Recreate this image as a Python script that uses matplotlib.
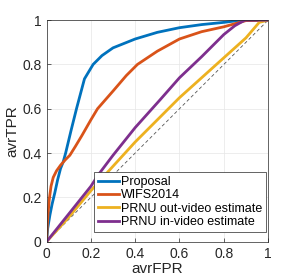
import numpy as np
import matplotlib
matplotlib.use("Agg")
from matplotlib import pyplot as plt

plt.rcParams['font.family'] = ['Liberation Sans', 'DejaVu Sans']

# ROC curves
prop_fpr = [0, 0.005, 0.015, 0.025, 0.037, 0.05, 0.063, 0.075, 0.086, 0.11, 0.135, 0.171, 0.21, 0.25, 0.3, 0.4, 0.5, 0.6, 0.7, 0.8, 0.88, 1]
prop_tpr = [0, 0.06, 0.12, 0.17, 0.22, 0.28, 0.33, 0.36, 0.4, 0.5, 0.6, 0.735, 0.8, 0.84, 0.875, 0.915, 0.945, 0.966, 0.98, 0.99, 1, 1]

wifs_fpr = [0, 0.003, 0.007, 0.012, 0.02, 0.03, 0.045, 0.063, 0.085, 0.105, 0.13, 0.16, 0.2, 0.23, 0.3, 0.36, 0.41, 0.5, 0.6, 0.7, 0.8, 0.9, 1]
wifs_tpr = [0, 0.07, 0.13, 0.19, 0.25, 0.29, 0.32, 0.345, 0.37, 0.39, 0.43, 0.48, 0.55, 0.6, 0.68, 0.75, 0.8, 0.86, 0.915, 0.948, 0.97, 0.998, 1]

out_fpr = [0, 0.1, 0.2, 0.263, 0.4, 0.5, 0.6, 0.7, 0.8, 0.9, 0.96, 1]
out_tpr = [0, 0.11, 0.23, 0.3, 0.45, 0.55, 0.65, 0.74, 0.83, 0.92, 0.99, 1]

in_fpr = [0, 0.1, 0.2, 0.232, 0.3, 0.4, 0.512, 0.6, 0.7, 0.8, 0.85, 0.895, 1]
in_tpr = [0, 0.125, 0.25, 0.3, 0.39, 0.515, 0.64, 0.74, 0.835, 0.935, 0.975, 1, 1]

labels = ['Proposal', 'WIFS2014', 'PRNU out-video estimate', 'PRNU in-video estimate']
colors = ['#0072BD', '#D95319', '#EDB120', '#7E2F8E']

fig = plt.figure(figsize=(2.93, 2.80), dpi=100)
ax = fig.add_axes([0.159, 0.137, 0.756, 0.791])

ax.plot([0, 1], [0, 1], '--', color='#555555', lw=0.6, dashes=(4, 3))
ax.plot(prop_fpr, prop_tpr, color=colors[0], lw=2, label=labels[0])
ax.plot(wifs_fpr, wifs_tpr, color=colors[1], lw=2, label=labels[1])
ax.plot(out_fpr, out_tpr, color=colors[2], lw=2, label=labels[2])
ax.plot(in_fpr, in_tpr, color=colors[3], lw=2, label=labels[3])

ax.set_xlim(0, 1)
ax.set_ylim(0, 1)
ticks = [0, 0.2, 0.4, 0.6, 0.8, 1]
tick_labels = ['0', '0.2', '0.4', '0.6', '0.8', '1']
ax.set_xticks(ticks)
ax.set_xticklabels(tick_labels)
ax.set_yticks(ticks)
ax.set_yticklabels(tick_labels)
ax.tick_params(labelsize=10, colors='#262626', direction='in', length=3, width=0.5)
ax.grid(True, color='#e6e6e6', lw=0.5)
for s in ax.spines.values():
    s.set_color('#262626')
    s.set_linewidth(0.5)

ax.set_xlabel('avrFPR', fontsize=11, color='#262626', labelpad=1)
ax.set_ylabel('avrTPR', fontsize=11, color='#262626', labelpad=2)

leg = ax.legend(loc='lower right', bbox_to_anchor=(0.99, 0.045), fontsize=9,
                handlelength=1.7, handletextpad=0.15, borderpad=0.3, labelspacing=0.1,
                borderaxespad=0, fancybox=False, framealpha=1)
leg.get_frame().set_edgecolor('#262626')
leg.get_frame().set_linewidth(0.5)

fig.savefig('out.png', dpi=100)
